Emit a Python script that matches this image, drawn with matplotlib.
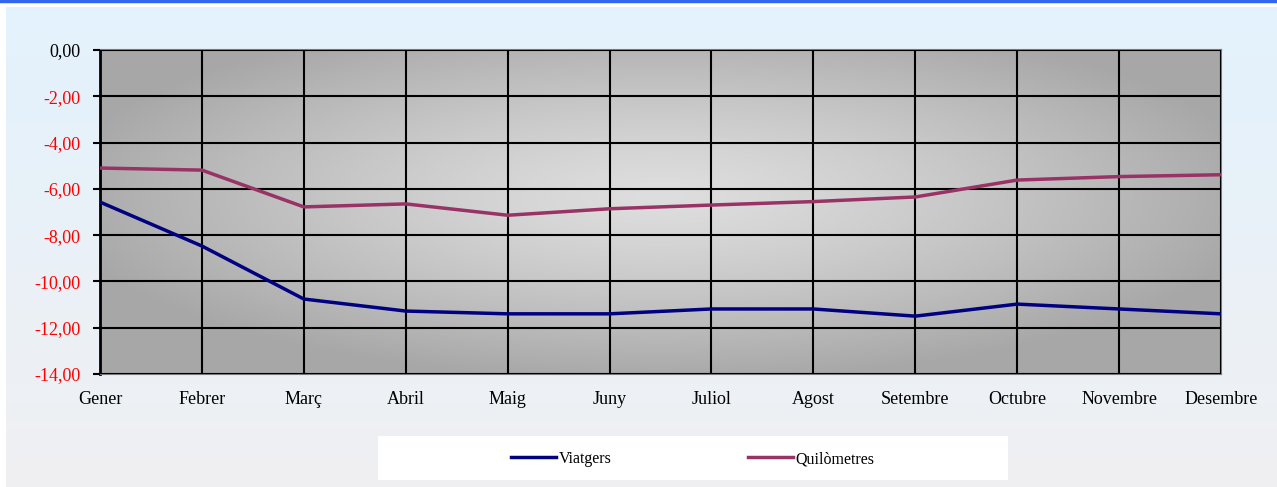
import matplotlib.pyplot as plt
from matplotlib.patches import Rectangle
import numpy as np

mesos = ['Gener', 'Febrer', 'Març', 'Abril', 'Maig', 'Juny', 'Juliol',
         'Agost', 'Setembre', 'Octubre', 'Novembre', 'Desembre']
viatgers = [-6.57, -8.47, -10.76, -11.28, -11.40, -11.40, -11.19,
            -11.19, -11.50, -10.98, -11.19, -11.40]
quilometres = [-5.10, -5.19, -6.78, -6.65, -7.14, -6.86, -6.70,
               -6.55, -6.35, -5.62, -5.47, -5.39]
yticks = [0, -2, -4, -6, -8, -10, -12, -14]

W, H = 1277, 487
fig = plt.figure(figsize=(W / 100, H / 100), dpi=100)
fig.patch.set_facecolor('white')

# background panel with vertical gradient
bg = fig.add_axes([6 / W, 0, 1 - 6 / W, (H - 7) / H], zorder=-10)
top = np.array([0.89, 0.95, 0.99])
bot = np.array([0.94, 0.94, 0.95])
t = np.linspace(0, 1, 200)[:, None]
grad = top * (1 - t) + bot * t
bg.imshow(grad[:, None, :], aspect='auto', extent=[0, 1, 0, 1])
bg.axis('off')

# top blue line
fig.add_artist(plt.Line2D([0, 1], [1 - 1 / H, 1 - 1 / H], color='#3366ee', lw=2.5))

ax = fig.add_axes([100 / W, (H - 374) / H, 1121 / W, 324 / H])
ax.set_facecolor('none')

# radial gradient of plot area
nx, ny = 400, 200
xx, yy = np.meshgrid(np.linspace(-1, 1, nx), np.linspace(-1, 1, ny))
r = np.sqrt((xx / 1.05) ** 2 + ((yy + 0.1) / 1.1) ** 2)
r = np.clip(r / 1.05, 0, 1) ** 1.3
light, dark = 0.87, 0.655
val = light * (1 - r) + dark * r
img = np.dstack([val, val, val])
ax.imshow(img, aspect='auto', extent=[0, len(mesos) - 1, -14, 0], zorder=0)

x = np.arange(len(mesos))
ax.plot(x, viatgers, color='#000080', lw=2.5, label='Viatgers', zorder=3)
ax.plot(x, quilometres, color='#993366', lw=2.5, label='Quilòmetres', zorder=3)

ax.set_xlim(0, len(mesos) - 1)
ax.set_ylim(-14, 0)
ax.set_yticks(yticks)
ax.set_yticklabels([f'{v:.2f}'.replace('.', ',') for v in yticks],
                   family='Liberation Serif', fontsize=13)
for lbl, v in zip(ax.get_yticklabels(), yticks):
    lbl.set_color('black' if v == 0 else 'red')
ax.set_xticks(x)
ax.set_xticklabels(mesos, family='Liberation Serif', fontsize=13)
ax.tick_params(axis='x', length=0, pad=12.5)
ax.tick_params(axis='y', length=5, width=1.5, direction='out', pad=9)
ax.grid(True, color='black', lw=1.5, zorder=1)
ax.set_axisbelow(False)
for s in ['top', 'right', 'bottom']:
    ax.spines[s].set_color('#777777')
    ax.spines[s].set_linewidth(1.5)
ax.spines['left'].set_color('black')
ax.spines['left'].set_linewidth(2)

# legend box
fig.patches.append(Rectangle((378 / W, 1 - 480 / H), 630 / W, 44 / H,
                             transform=fig.transFigure, facecolor='white',
                             edgecolor='none', zorder=-5))
leg = fig.legend(loc='center', bbox_to_anchor=(693 / W, 1 - 459 / H),
                 ncol=2, frameon=False,
                 prop={'family': 'Liberation Serif', 'size': 11.5},
                 handlelength=2.8, handletextpad=0.2, columnspacing=8.5)

fig.savefig('out.png', dpi=100)
